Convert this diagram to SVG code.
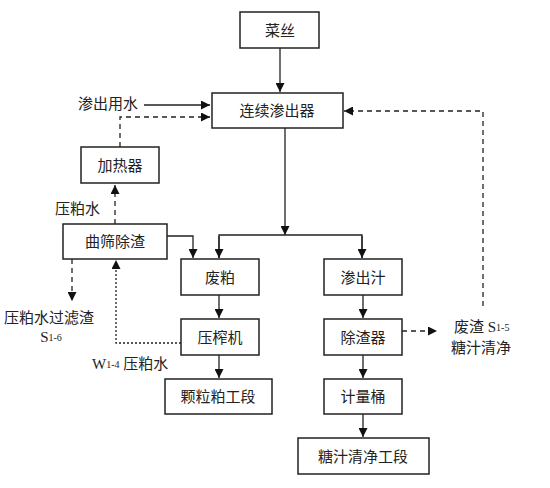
<svg xmlns="http://www.w3.org/2000/svg" width="550" height="488" viewBox="0 0 550 488">
<defs>
<marker id="ah" viewBox="0 0 10 10" refX="10" refY="5" markerWidth="9" markerHeight="9" markerUnits="userSpaceOnUse" orient="auto">
<path d="M0,0 L10,5 L0,10 z" fill="#111"/>
</marker>
<style>
.box{fill:#fff;stroke:#222;stroke-width:1.5}
.t{font-family:"Liberation Serif","Noto Sans CJK SC",serif;font-size:15px;fill:#222;text-anchor:middle;dominant-baseline:central}
.tl{font-family:"Liberation Serif","Noto Sans CJK SC",serif;font-size:15px;fill:#222;dominant-baseline:central}
.sub{font-size:10px}
.c{fill:none;stroke:#222;stroke-width:1.3}
.d{stroke-dasharray:5,4}
.dt{stroke-dasharray:2,2}
</style>
</defs>
<rect width="550" height="488" fill="#fff"/>
<g id="connectors">
<line class="c" x1="280" y1="48" x2="280" y2="92" marker-end="url(#ah)"/>
<line class="c" x1="144" y1="105" x2="210" y2="105" marker-end="url(#ah)"/>
<polyline class="c d" points="120,147 120,117 210,117" marker-end="url(#ah)"/>
<line class="c d" x1="115" y1="224" x2="115" y2="185" marker-end="url(#ah)"/>
<polyline class="c" points="167,236 193,236 193,258" marker-end="url(#ah)"/>
<line class="c" x1="285" y1="128" x2="285" y2="235" marker-end="url(#ah)"/>
<polyline class="c" points="219,258 219,235 362,235 362,258"/>
<line class="c" x1="219" y1="236" x2="219" y2="258" marker-end="url(#ah)"/>
<line class="c" x1="362" y1="236" x2="362" y2="258" marker-end="url(#ah)"/>
<line class="c" x1="219" y1="295" x2="219" y2="318" marker-end="url(#ah)"/>
<line class="c" x1="219" y1="355" x2="219" y2="378" marker-end="url(#ah)"/>
<line class="c" x1="363" y1="295" x2="363" y2="318" marker-end="url(#ah)"/>
<line class="c" x1="363" y1="355" x2="363" y2="378" marker-end="url(#ah)"/>
<line class="c" x1="363" y1="414" x2="363" y2="437" marker-end="url(#ah)"/>
<line class="c d" x1="402" y1="331" x2="437" y2="331" marker-end="url(#ah)"/>
<polyline class="c d" points="483,306 483,111 344,111" marker-end="url(#ah)"/>
<line class="c d" x1="72" y1="259" x2="72" y2="301" marker-end="url(#ah)"/>
<polyline class="c dt" points="181,343 116,343 116,260" marker-end="url(#ah)"/>
</g>
<g id="n-caisi"><rect class="box" x="240" y="12" width="79" height="36"/><text class="t" x="280" y="31">菜丝</text></g>
<g id="n-shenchuqi"><rect class="box" x="212" y="93" width="131" height="35"/><text class="t" x="277" y="111">连续渗出器</text></g>
<g id="n-jiareqi"><rect class="box" x="81" y="147" width="78" height="36"/><text class="t" x="120" y="166">加热器</text></g>
<g id="n-qushai"><rect class="box" x="63" y="224" width="104" height="35"/><text class="t" x="115" y="242">曲筛除渣</text></g>
<g id="n-feipo"><rect class="box" x="181" y="259" width="78" height="36"/><text class="t" x="220" y="278">废粕</text></g>
<g id="n-shenchuzhi"><rect class="box" x="324" y="259" width="78" height="36"/><text class="t" x="363" y="278">渗出汁</text></g>
<g id="n-yazhaji"><rect class="box" x="181" y="319" width="78" height="36"/><text class="t" x="220" y="338">压榨机</text></g>
<g id="n-chuzhaqi"><rect class="box" x="324" y="319" width="78" height="36"/><text class="t" x="363" y="338">除渣器</text></g>
<g id="n-kelipo"><rect class="box" x="165" y="379" width="107" height="35"/><text class="t" x="218" y="397">颗粒粕工段</text></g>
<g id="n-jiliangtong"><rect class="box" x="324" y="379" width="78" height="35"/><text class="t" x="363" y="397">计量桶</text></g>
<g id="n-tangzhi"><rect class="box" x="298" y="438" width="131" height="36"/><text class="t" x="363" y="457">糖汁清净工段</text></g>
<g id="labels">
<text class="tl" x="78" y="104">渗出用水</text>
<text class="tl" x="55" y="209">压粕水</text>
<text class="t" x="49" y="318">压粕水过滤渣</text>
<text class="t" x="51" y="337">S<tspan class="sub">1-6</tspan></text>
<text class="tl" x="92" y="364">W<tspan class="sub">1-4</tspan> 压粕水</text>
<text class="tl" x="454" y="327">废渣 S<tspan class="sub">1-5</tspan></text>
<text class="tl" x="451" y="348">糖汁清净</text>
</g>
</svg>
